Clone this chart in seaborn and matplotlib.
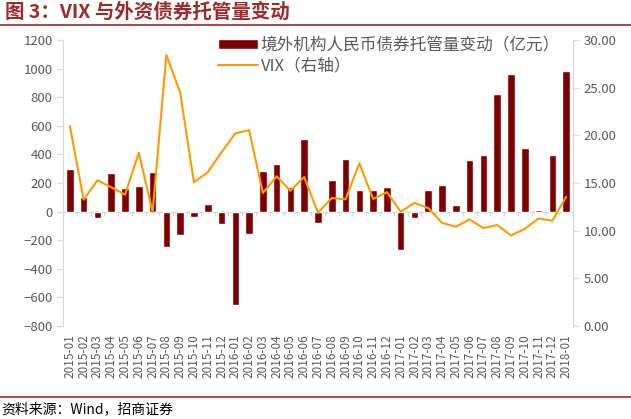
import numpy as np
import pandas as pd
import matplotlib
matplotlib.use('Agg')
import matplotlib.pyplot as plt
import seaborn as sns

months = ['2015-01', '2015-02', '2015-03', '2015-04', '2015-05', '2015-06', '2015-07',
          '2015-08', '2015-09', '2015-10', '2015-11', '2015-12', '2016-01', '2016-02',
          '2016-03', '2016-04', '2016-05', '2016-06', '2016-07', '2016-08', '2016-09',
          '2016-10', '2016-11', '2016-12', '2017-01', '2017-02', '2017-03', '2017-04',
          '2017-05', '2017-06', '2017-07', '2017-08', '2017-09', '2017-10', '2017-11',
          '2017-12', '2018-01']
# 境外机构人民币债券托管量变动（亿元）
custody = [300, 100, -45, 270, 165, 180, 275, -250, -165, -35, 55, -90, -650, -155,
           285, 335, 175, 505, -77, 222, 370, 153, 153, 172, -270, -44, 149, 183,
           44, 360, 397, 824, 961, 446, 14, 397, 982]
# VIX（右轴）
vix = [20.97, 13.25, 15.28, 14.55, 13.78, 18.17, 11.95, 28.43, 24.50, 15.07, 16.13,
       18.21, 20.20, 20.55, 13.95, 15.70, 14.19, 15.63, 11.87, 13.42, 13.29, 17.06,
       13.33, 14.04, 11.99, 12.92, 12.37, 10.82, 10.41, 11.18, 10.26, 10.59, 9.51,
       10.18, 11.28, 11.04, 13.54]

df = pd.DataFrame({'month': months, 'custody': custody, 'vix': vix})

sns.set_style('white')
plt.rcParams['font.family'] = ['Noto Sans CJK SC', 'DejaVu Sans']

grey = '#595959'
bar_col = '#7F0000'
line_col = '#FF9900'
red = '#9C2B2B'

fig = plt.figure(figsize=(6.31, 4.19), dpi=100)
ax = fig.add_axes([63 / 631, 1 - 326 / 419, 510 / 631, 286 / 419])

sns.barplot(data=df, x='month', y='custody', color=bar_col, width=0.55,
            saturation=1, ax=ax, label='境外机构人民币债券托管量变动（亿元）')
ax.set_ylim(-800, 1200)
ax.set_yticks(np.arange(-800, 1201, 200))
ax.set_xlim(-0.5, len(months) - 0.5)
ax.set_xlabel('')
ax.set_ylabel('')

# zero axis line with category tick marks
ax.axhline(0, color='#D9D9D9', lw=1, zorder=0)
ax.vlines(np.arange(len(months) + 1) - 0.5, -28, 0, color='#D9D9D9', lw=1, zorder=0)

ax2 = ax.twinx()
sns.lineplot(x=np.arange(len(months)), y=df['vix'], color=line_col, lw=1.5, ax=ax2,
             label='VIX（右轴）', legend=False)
ax2.set_ylim(0, 30)
ax2.set_yticks(np.arange(0, 31, 5))
ax2.set_yticklabels([f'{v:.2f}' for v in np.arange(0, 31, 5)])
ax2.set_ylabel('')
ax2.set_xlim(-0.5, len(months) - 0.5)

for a in (ax, ax2):
    for s in ('top', 'bottom'):
        a.spines[s].set_visible(False)
    a.spines['left'].set_color('#D9D9D9')
    a.spines['right'].set_color('#D9D9D9')
    a.tick_params(axis='y', color='#D9D9D9', labelcolor=grey, labelsize=9.5,
                  length=4, width=1, direction='out')
ax.spines['right'].set_visible(False)
ax2.spines['left'].set_visible(False)

ax.set_xticks(np.arange(len(months)))
ax.set_xticklabels(months, rotation=90, fontsize=8.5, color=grey)
ax.tick_params(axis='x', length=0, pad=6)

h1, l1 = ax.get_legend_handles_labels()
h2, l2 = ax2.get_legend_handles_labels()
leg = ax.legend(h1 + h2, l1 + l2, loc='upper left', bbox_to_anchor=(0.29, 1.035),
                frameon=False, fontsize=12, handlelength=2.4, handleheight=0.55,
                labelspacing=0.25, handletextpad=0.2, borderaxespad=0)
for t in leg.get_texts():
    t.set_color(grey)

fig.text(0.008, 1 - 12 / 419, '图 3：VIX 与外资债券托管量变动', fontsize=14,
         fontweight='bold', color=red, va='center', ha='left')
fig.add_artist(plt.Line2D([0, 1], [1 - 25 / 419, 1 - 25 / 419], color=red, lw=1.2))
fig.add_artist(plt.Line2D([0, 1], [1 - 397 / 419, 1 - 397 / 419], color=red, lw=1.2))
fig.text(0.002, 1 - 409 / 419, '资料来源：Wind，招商证券', fontsize=10,
         color='black', va='center', ha='left')

fig.savefig('out.png', dpi=100)
